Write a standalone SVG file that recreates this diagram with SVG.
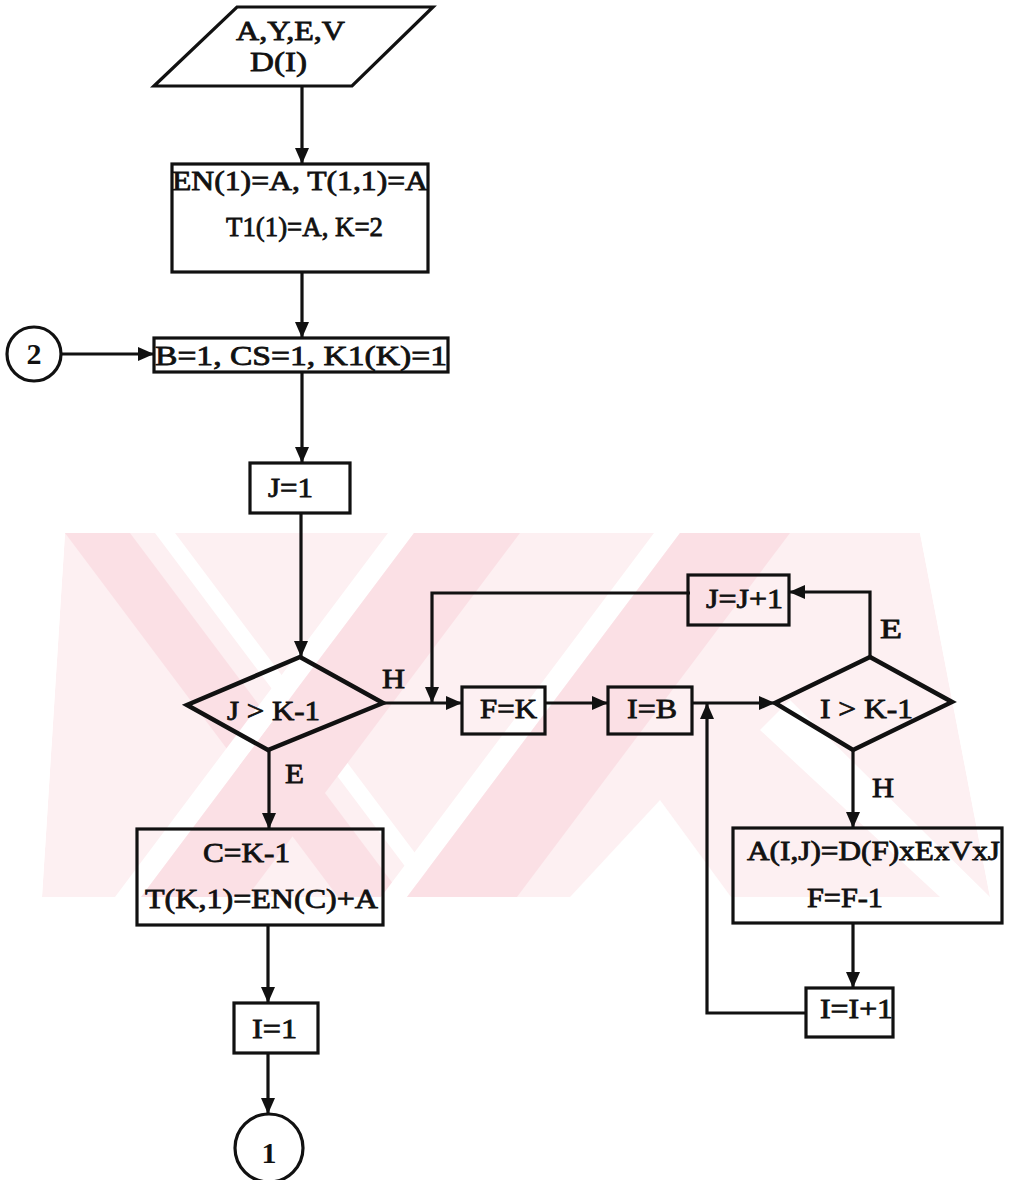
<svg xmlns="http://www.w3.org/2000/svg" width="1011" height="1180" viewBox="0 0 1011 1180">
  <style>
    .shape { fill: none; stroke: #111; stroke-width: 3.2; }
    .dec { fill: none; stroke: #111; stroke-width: 4.5; stroke-linejoin: miter; }
    .line { fill: none; stroke: #111; stroke-width: 3.2; }
    .t { font-family: "Liberation Serif", "Times New Roman", serif; font-size: 28px; fill: #111; stroke: #111; stroke-width: 0.8; }
    .c { font-family: "Liberation Serif", "Times New Roman", serif; font-size: 30px; font-weight: bold; fill: #111; text-anchor: middle; }
  </style>
  <defs>
    <marker id="arrow" viewBox="0 0 16 14" refX="16" refY="7" markerWidth="16" markerHeight="14" markerUnits="userSpaceOnUse" orient="auto">
      <path d="M0,0 L16,7 L0,14 Z" fill="#111"/>
    </marker>
    <clipPath id="wmclip">
      <polygon points="65,533 920,533 990,897 42,897"/>
    </clipPath>
  </defs>

  <rect x="0" y="0" width="1011" height="1180" fill="#fff"/>

  <!-- background watermark band -->
  <g id="watermark" clip-path="url(#wmclip)">
    <polygon points="65,533 920,533 990,897 42,897" fill="#fdf0f2"/>
    <polygon points="65,533 130,533 403,897 338,897" fill="#fbe0e5"/>
    <polygon points="155,533 175,533 448,897 428,897" fill="#fff"/>
    <polygon points="388,533 414,533 141,897 115,897" fill="#fff"/>
    <polygon points="414,533 520,533 247,897 141,897" fill="#fbe0e5"/>
    <polygon points="654,533 680,533 407,897 381,897" fill="#fff"/>
    <polygon points="680,533 790,533 517,897 407,897" fill="#fbe0e5"/>
    <polygon points="660,800 570,897 731,897" fill="#fff"/>
    <polygon points="790,700 990,897 940,897 760,730" fill="#fff"/>
  </g>

  <!-- connectors -->
  <g id="connectors">
    <path class="line" d="M302,86 V164" marker-end="url(#arrow)"/>
    <path class="line" d="M302,272 V338" marker-end="url(#arrow)"/>
    <path class="line" d="M62,354 H154" marker-end="url(#arrow)"/>
    <path class="line" d="M302,372 V463" marker-end="url(#arrow)"/>
    <path class="line" d="M301,513 V657" marker-end="url(#arrow)"/>
    <path class="line" d="M383,703 H462" marker-end="url(#arrow)"/>
    <path class="line" d="M690,593 H432 V703" marker-end="url(#arrow)"/>
    <path class="line" d="M545,703 H608" marker-end="url(#arrow)"/>
    <path class="line" d="M692,703 H775" marker-end="url(#arrow)"/>
    <path class="line" d="M870,657 V592 H789" marker-end="url(#arrow)"/>
    <path class="line" d="M853,750 V828" marker-end="url(#arrow)"/>
    <path class="line" d="M853,923 V988" marker-end="url(#arrow)"/>
    <path class="line" d="M806,1013 H707 V703" marker-end="url(#arrow)"/>
    <path class="line" d="M269,750 V829" marker-end="url(#arrow)"/>
    <path class="line" d="M268,925 V1003" marker-end="url(#arrow)"/>
    <path class="line" d="M268,1053 V1114" marker-end="url(#arrow)"/>
  </g>

  <!-- branch labels -->
  <g id="labels">
    <text class="t" x="382" y="688" textLength="23" lengthAdjust="spacingAndGlyphs">H</text>
    <text class="t" x="285" y="783" textLength="19" lengthAdjust="spacingAndGlyphs">E</text>
    <text class="t" x="880" y="638" textLength="22" lengthAdjust="spacingAndGlyphs">E</text>
    <text class="t" x="872" y="797" textLength="22" lengthAdjust="spacingAndGlyphs">H</text>
  </g>

  <g id="input">
    <polygon class="shape" points="237,7 433,7 352,86 154,86"/>
    <text class="t" x="236" y="40" textLength="109" lengthAdjust="spacingAndGlyphs">A,Y,E,V</text>
    <text class="t" x="250" y="71" textLength="57" lengthAdjust="spacingAndGlyphs">D(I)</text>
  </g>

  <g id="init">
    <rect class="shape" x="172" y="164" width="256" height="108"/>
    <text class="t" x="172" y="190" textLength="256" lengthAdjust="spacingAndGlyphs">EN(1)=A, T(1,1)=A</text>
    <text class="t" x="226" y="236" textLength="157" lengthAdjust="spacingAndGlyphs">T1(1)=A, K=2</text>
  </g>

  <g id="conn2">
    <circle class="shape" cx="34" cy="354" r="27"/>
    <text class="c" x="34" y="364">2</text>
  </g>

  <g id="setb">
    <rect class="shape" x="154" y="338" width="294" height="34"/>
    <text class="t" x="155" y="365" textLength="292" lengthAdjust="spacingAndGlyphs">B=1, CS=1, K1(K)=1</text>
  </g>

  <g id="setj">
    <rect class="shape" x="250" y="463" width="100" height="50"/>
    <text class="t" x="268" y="497" textLength="45" lengthAdjust="spacingAndGlyphs">J=1</text>
  </g>

  <g id="testj">
    <polygon class="dec" points="300,657 383,703 268,750 187,705"/>
    <text class="t" x="227" y="720" textLength="93" lengthAdjust="spacingAndGlyphs">J &gt; K-1</text>
  </g>

  <g id="setf">
    <rect class="shape" x="462" y="687" width="83" height="47"/>
    <text class="t" x="480" y="718" textLength="57" lengthAdjust="spacingAndGlyphs">F=K</text>
  </g>

  <g id="seti">
    <rect class="shape" x="608" y="687" width="84" height="47"/>
    <text class="t" x="627" y="718" textLength="50" lengthAdjust="spacingAndGlyphs">I=B</text>
  </g>

  <g id="testi">
    <polygon class="dec" points="870,657 952,702 853,750 775,703"/>
    <text class="t" x="820" y="718" textLength="93" lengthAdjust="spacingAndGlyphs">I &gt; K-1</text>
  </g>

  <g id="incj">
    <rect class="shape" x="688" y="575" width="101" height="50"/>
    <text class="t" x="706" y="608" textLength="77" lengthAdjust="spacingAndGlyphs">J=J+1</text>
  </g>

  <g id="calc">
    <rect class="shape" x="733" y="828" width="269" height="95"/>
    <text class="t" x="747" y="860" textLength="253" lengthAdjust="spacingAndGlyphs">A(I,J)=D(F)xExVxJ</text>
    <text class="t" x="807" y="907" textLength="76" lengthAdjust="spacingAndGlyphs">F=F-1</text>
  </g>

  <g id="inci">
    <rect class="shape" x="806" y="988" width="87" height="49"/>
    <text class="t" x="820" y="1018" textLength="73" lengthAdjust="spacingAndGlyphs">I=I+1</text>
  </g>

  <g id="sett">
    <rect class="shape" x="137" y="829" width="246" height="96"/>
    <text class="t" x="203" y="862" textLength="87" lengthAdjust="spacingAndGlyphs">C=K-1</text>
    <text class="t" x="145" y="908" textLength="233" lengthAdjust="spacingAndGlyphs">T(K,1)=EN(C)+A</text>
  </g>

  <g id="seti1">
    <rect class="shape" x="234" y="1003" width="84" height="50"/>
    <text class="t" x="252" y="1038" textLength="45" lengthAdjust="spacingAndGlyphs">I=1</text>
  </g>

  <g id="conn1">
    <circle class="shape" cx="269" cy="1148" r="34"/>
    <text class="c" x="269" y="1163">1</text>
  </g>
</svg>
